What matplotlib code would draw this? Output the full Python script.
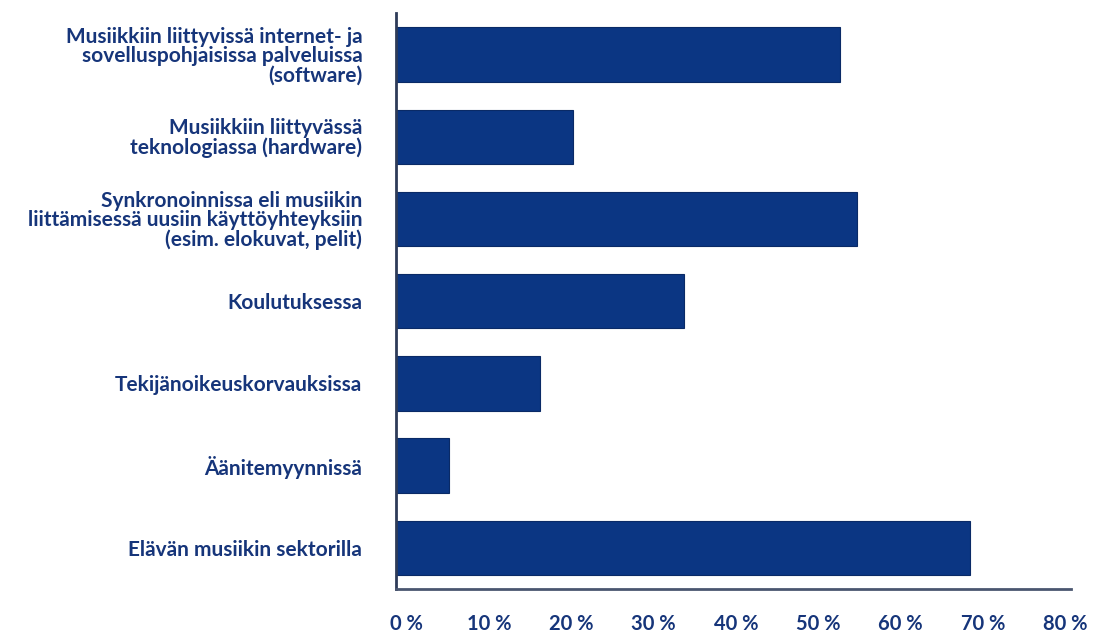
import matplotlib
matplotlib.use("Agg")
import matplotlib.pyplot as plt
from matplotlib.transforms import ScaledTranslation

categories = [
    "Musiikkiin liittyvissä internet- ja\nsovelluspohjaisissa palveluissa\n(software)",
    "Musiikkiin liittyvässä\nteknologiassa (hardware)",
    "Synkronoinnissa eli musiikin\nliittämisessä uusiin käyttöyhteyksiin\n(esim. elokuvat, pelit)",
    "Koulutuksessa",
    "Tekijänoikeuskorvauksissa",
    "Äänitemyynnissä",
    "Elävän musiikin sektorilla",
]
values = [54.0, 21.5, 56.0, 35.0, 17.5, 6.5, 69.7]
tick_values = [0, 10, 20, 30, 40, 50, 60, 70, 80]
tick_labels = ["0 %", "10 %", "20 %", "30 %", "40 %", "50 %", "60 %", "70 %", "80 %"]

bar_color = "#0b3683"
text_color = "#16357a"
spine_color = "#2e3b58"

plt.rcParams["font.family"] = ["Lato", "DejaVu Sans"]

fig = plt.figure(figsize=(10.99, 6.33), dpi=100)
ax = fig.add_axes([0.360, 0.0695, 0.6145, 0.9095])

ypos = list(range(len(categories)))
ax.barh(ypos, values, height=0.66, color=bar_color, edgecolor="#0a2a66", linewidth=0.8)

ax.set_ylim(len(categories) - 0.5, -0.5)
ax.set_xlim(0, 82)

ax.set_yticks(ypos)
ax.set_yticklabels(categories, fontsize=15, fontweight="bold", color=text_color,
                   multialignment="right", linespacing=0.95)
ax.set_xticks(tick_values)
ax.set_xticklabels(tick_labels, fontsize=14.5, fontweight="bold", color=text_color)

ax.tick_params(axis="y", length=0, pad=24)
ax.tick_params(axis="x", length=0, pad=18)

offset = ScaledTranslation(11 / 100, 0, fig.dpi_scale_trans)
for lab in ax.get_xticklabels():
    lab.set_transform(lab.get_transform() + offset)

for s in ["top", "right"]:
    ax.spines[s].set_visible(False)
ax.spines["left"].set_color(spine_color)
ax.spines["left"].set_linewidth(2)
ax.spines["bottom"].set_color("#4a5670")
ax.spines["bottom"].set_linewidth(2)

fig.savefig("out.png", dpi=100, facecolor="white")
